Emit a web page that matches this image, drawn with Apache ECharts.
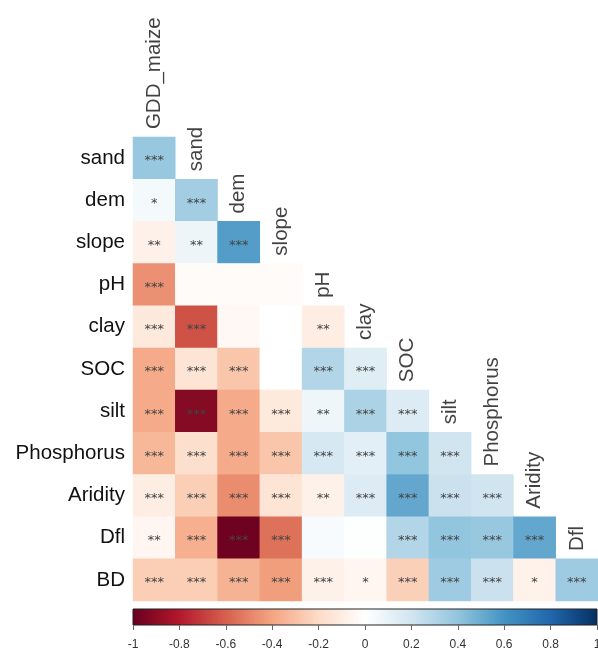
<!DOCTYPE html>
<html>
<head>
<meta charset="utf-8">
<script src="https://cdn.jsdelivr.net/npm/echarts@6/dist/echarts.min.js"></script>
<style>
  html, body { margin: 0; padding: 0; background: #fff; }
  #chart { width: 598px; height: 655px; }
</style>
</head>
<body>
<div id="chart"></div>
<script>
// Row variables (top to bottom) and column variables (left to right)
const rowNames = ['sand', 'dem', 'slope', 'pH', 'clay', 'SOC', 'silt', 'Phosphorus', 'Aridity', 'Dfl', 'BD'];
const colNames = ['GDD_maize', 'sand', 'dem', 'slope', 'pH', 'clay', 'SOC', 'silt', 'Phosphorus', 'Aridity', 'Dfl'];

// Correlation coefficients, lower triangle, one array per row
const rSand       = [0.38];
const rDem        = [0.05, 0.35];
const rSlope      = [-0.08, 0.08, 0.56];
const rPH         = [-0.46, -0.02, -0.02, -0.02];
const rClay       = [-0.12, -0.64, -0.04, 0.0, -0.10];
const rSOC        = [-0.38, -0.15, -0.28, 0.0, 0.30, 0.14];
const rSilt       = [-0.38, -0.92, -0.38, -0.12, 0.07, 0.32, 0.15];
const rPhosphorus = [-0.33, -0.18, -0.38, -0.28, 0.18, 0.12, 0.40, 0.20];
const rAridity    = [-0.10, -0.25, -0.47, -0.15, -0.08, 0.15, 0.52, 0.22, 0.20];
const rDfl        = [-0.05, -0.36, -0.98, -0.55, 0.03, 0.01, 0.30, 0.40, 0.38, 0.52];
const rBD         = [-0.25, -0.25, -0.35, -0.42, -0.08, -0.05, -0.24, 0.36, 0.22, -0.07, 0.36];

// Significance marks for the same cells
const sSand       = ['***'];
const sDem        = ['*', '***'];
const sSlope      = ['**', '**', '***'];
const sPH         = ['***', '', '', ''];
const sClay       = ['***', '***', '', '', '**'];
const sSOC        = ['***', '***', '***', '', '***', '***'];
const sSilt       = ['***', '***', '***', '***', '**', '***', '***'];
const sPhosphorus = ['***', '***', '***', '***', '***', '***', '***', '***'];
const sAridity    = ['***', '***', '***', '***', '**', '***', '***', '***', '***'];
const sDfl        = ['**', '***', '***', '***', '', '', '***', '***', '***', '***'];
const sBD         = ['***', '***', '***', '***', '***', '*', '***', '***', '***', '*', '***'];

// Colour bar ticks
const barTicks = [-1, -0.8, -0.6, -0.4, -0.2, 0, 0.2, 0.4, 0.6, 0.8, 1];

// RdBu diverging palette
const rdBu = ['#67001F', '#B2182B', '#D6604D', '#F4A582', '#FDDBC7', '#FFFFFF',
              '#D1E5F0', '#92C5DE', '#4393C3', '#2166AC', '#053061'];

const corrRows = [rSand, rDem, rSlope, rPH, rClay, rSOC, rSilt, rPhosphorus, rAridity, rDfl, rBD];
const sigRows  = [sSand, sDem, sSlope, sPH, sClay, sSOC, sSilt, sPhosphorus, sAridity, sDfl, sBD];

const cells = [];
corrRows.forEach((row, i) => {
  row.forEach((v, j) => {
    cells.push([j, i, v, sigRows[i][j]]);
  });
});

// One anchor per column, at its first (top) cell, to carry the header label
const headers = colNames.map((name, j) => [j, j, name]);

const font = 'Liberation Sans, Arial, sans-serif';

const chart = echarts.init(document.getElementById('chart'), null, { renderer: 'canvas' });
chart.setOption({
  backgroundColor: '#ffffff',
  animation: false,
  grid: [
    { left: 133, top: 137, width: 465, height: 464, containLabel: false, outerBoundsMode: 'none' },
    {
      left: 133, top: 609, width: 464, height: 16, show: true,
      containLabel: false, outerBoundsMode: 'none',
      borderColor: '#222', borderWidth: 1,
      backgroundColor: new echarts.graphic.LinearGradient(0, 0, 1, 0,
        rdBu.map((c, k) => ({ offset: k / (rdBu.length - 1), color: c })))
    }
  ],
  xAxis: [
    {
      type: 'category', gridIndex: 0, data: colNames, position: 'top',
      axisLine: { show: false }, axisTick: { show: false }, axisLabel: { show: false },
      splitLine: { show: false }
    },
    {
      type: 'value', gridIndex: 1, min: -1, max: 1, interval: 0.2,
      axisLine: { show: false },
      axisTick: { show: true, length: 5, lineStyle: { color: '#666', width: 1 } },
      splitLine: { show: false },
      axisLabel: {
        margin: 14, fontSize: 12, color: '#333', fontFamily: font,
        formatter: v => {
          const t = barTicks.find(b => Math.abs(b - v) < 1e-9);
          return t === undefined ? '' : String(t);
        }
      }
    }
  ],
  yAxis: [
    {
      type: 'category', gridIndex: 0, data: rowNames, inverse: true,
      axisLine: { show: false }, axisTick: { show: false }, splitLine: { show: false },
      axisLabel: { margin: 8, fontSize: 20.5, color: '#111', fontFamily: font }
    },
    {
      type: 'value', gridIndex: 1, min: 0, max: 1, show: false
    }
  ],
  visualMap: {
    type: 'continuous', show: false, min: -1, max: 1, dimension: 2,
    seriesIndex: 0, inRange: { color: rdBu }
  },
  series: [
    {
      type: 'heatmap', xAxisIndex: 0, yAxisIndex: 0, data: cells,
      itemStyle: { borderWidth: 0 },
      label: {
        show: true, formatter: p => p.data[3], color: '#444',
        fontSize: 13, fontFamily: 'DejaVu Sans, sans-serif', offset: [0, 3]
      },
      emphasis: { disabled: true }
    },
    {
      type: 'scatter', xAxisIndex: 0, yAxisIndex: 0, data: headers,
      symbol: 'rect', symbolSize: [42, 42],
      itemStyle: { color: 'rgba(0,0,0,0)' },
      label: {
        show: true, position: 'top', distance: 8, rotate: 90,
        align: 'left', verticalAlign: 'middle',
        formatter: p => p.data[2], fontSize: 20.5, color: '#111', fontFamily: font
      },
      emphasis: { disabled: true }, silent: true
    }
  ]
});
</script>
</body>
</html>
